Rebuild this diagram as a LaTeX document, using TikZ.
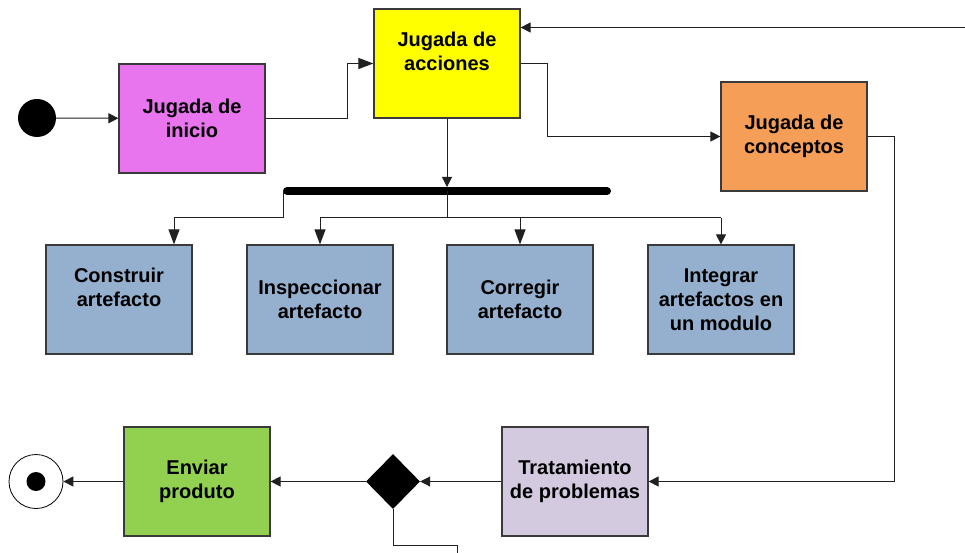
\documentclass[tikz,border=0pt]{standalone}
\usepackage{fontspec}
\setmainfont{Liberation Sans}
\usetikzlibrary{arrows.meta,shapes.geometric,calc}
\definecolor{cinicio}{HTML}{E874EE}
\definecolor{cacc}{HTML}{FFFF00}
\definecolor{cconc}{HTML}{F59E57}
\definecolor{cblue}{HTML}{95B0CF}
\definecolor{ctrat}{HTML}{D3CAE0}
\definecolor{cenv}{HTML}{92D050}
\definecolor{boxline}{HTML}{3A3A3A}
\definecolor{lnc}{HTML}{202020}
\begin{document}
\begin{tikzpicture}[x=1pt,y=-1pt,
  box/.style={draw=boxline, line width=1.2pt, minimum width=146pt, minimum height=109pt, inner sep=0pt},
  lbl/.style={font=\fontsize{20}{24}\selectfont\bfseries, align=center, inner sep=0pt},
  conn/.style={draw=lnc, line width=1pt},
  arr/.style={conn, -{Triangle[length=10pt,width=10pt]}},
  arrl/.style={conn, -{Triangle[length=15pt,width=11pt]}}]
\useasboundingbox (0,0) rectangle (965,553);
% nodes
\node[circle, fill=black, minimum size=38pt, inner sep=0pt] (start) at (37,118) {};
\node[box, fill=cinicio, lbl] (ini) at (192,118.5) {Jugada de\\inicio};
\node[box, fill=cacc, label={[lbl,yshift=12pt]center:{Jugada de\\acciones}}] (acc) at (447,63.5) {};
\node[box, fill=cconc, lbl] (con) at (794,136.5) {Jugada de\\conceptos};
\node[box, fill=cblue, label={[lbl,yshift=12.5pt]center:{Construir\\artefacto}}] (cons) at (119,299.5) {};
\node[box, fill=cblue, lbl] (insp) at (320,299.5) {Inspeccionar\\artefacto};
\node[box, fill=cblue, lbl] (corr) at (520,299.5) {Corregir\\artefacto};
\node[box, fill=cblue, lbl] (integ) at (721,299.5) {Integrar\\artefactos en\\un modulo};
\node[box, fill=ctrat, lbl] (trat) at (575,481.5) {Tratamiento\\de problemas};
\node[box, fill=cenv, lbl] (env) at (197,481.5) {Enviar\\produto};
\node[diamond, fill=black, minimum width=54pt, minimum height=55pt, inner sep=0pt] (dia) at (393,481.5) {};
\node[circle, draw=black, fill=white, line width=0.8pt, minimum size=54pt, inner sep=0pt] (endc) at (36,481.5) {};
\node[circle, fill=black, minimum size=19pt, inner sep=0pt] (endd) at (endc) {};
% fork bar
\coordinate (barL) at (287,191);
\coordinate (barR) at (607,191);
\coordinate (barLe) at (283,191);
\draw[line width=8pt, line cap=round] (barL) -- (barR);
% free ends
\coordinate (fb) at (965,27.5);
\coordinate (out) at (457,553);
% connectors
\draw[arr] (start) -- (ini);
\draw[arrl] (ini.east) -- ++(82,0) |- (acc.west);
\draw[arr] (acc.east) -- ++(27,0) |- (con.west);
\draw[arr] (con.east) -- ++(27,0) |- (trat.east);
\draw[arr] (fb) -- (fb -| acc.east);
\draw[arr] (acc.south) -- ($(acc.south |- barL)+(0,-4)$);
\coordinate (j1) at (174,218);
\coordinate (j2) at (insp.north |- j1);
\coordinate (j3) at (corr.north |- j1);
\coordinate (j4) at (integ.north |- j1);
\draw[arrl] (barLe) |- (j1) -- (j1 |- cons.north);
\draw[conn] (acc.south |- barL) -- (acc.south |- j1);
\draw[conn] (j2) -- (j4);
\draw[arrl] (j2) -- (insp.north);
\draw[arrl] (j3) -- (corr.north);
\draw[arr] (j4) -- (integ.north);
\draw[arr] (trat) -- (dia);
\draw[arr] (dia) -- (env);
\draw[arr] (env) -- (endc);
\draw[conn] (dia.south) -- ++(0,36) -| (out);
\end{tikzpicture}
\end{document}
